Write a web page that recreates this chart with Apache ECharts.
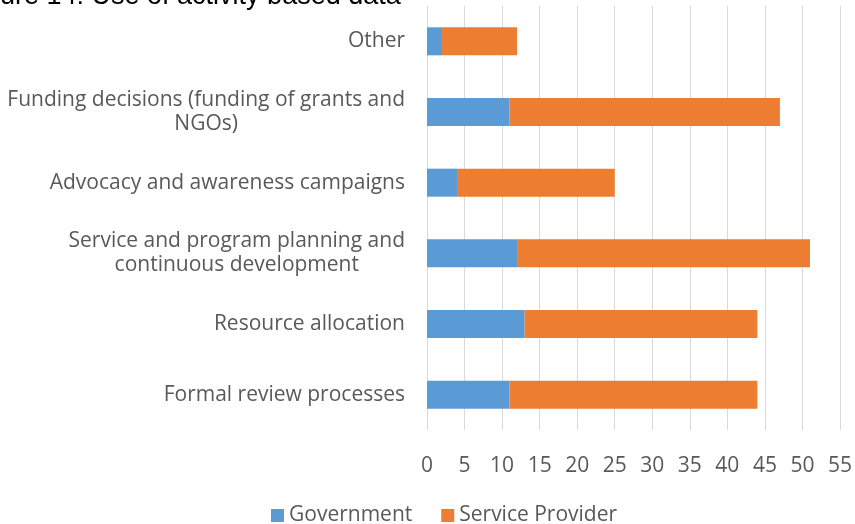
<!DOCTYPE html>
<html>
<head>
<meta charset="utf-8">
<script src="https://cdn.jsdelivr.net/npm/echarts@6/dist/echarts.min.js"></script>
<style>
html,body{margin:0;padding:0;background:#fff;}
#c{width:855px;height:524px;}
</style>
</head>
<body>
<div id="c"></div>
<script>
// Data (category axis bottom -> top)
const categories = [
  'Formal review processes',
  'Resource allocation',
  'Service and program planning and\ncontinuous development',
  'Advocacy and awareness campaigns',
  'Funding decisions (funding of grants and\nNGOs)',
  'Other'
];
const government = [11, 13, 12, 4, 11, 2];
const serviceProvider = [33, 31, 39, 21, 36, 10];
const seriesNames = ['Government', 'Service Provider'];
const titleText = 'ure 14: Use of activity based data';

const chart = echarts.init(document.getElementById('c'), null, {renderer: 'canvas'});
const labelFont = '"Open Sans", sans-serif';
const fs = 21;
chart.setOption({
  animation: false,
  graphic: [{
    type: 'text', left: 0, top: -17,
    style: {text: titleText, font: '27px "Liberation Sans", Arial, sans-serif', fill: '#000'}
  }],
  grid: {left: 427, right: 12, top: 6, bottom: 94, containLabel: false},
  legend: {
    data: seriesNames, left: 266, top: 500, icon: 'rect',
    itemWidth: 13, itemHeight: 13, itemGap: 29,
    textStyle: {color: '#595959', fontSize: fs, fontFamily: labelFont}
  },
  xAxis: {
    type: 'value', min: 0, max: 55, interval: 5,
    axisLine: {show: false}, axisTick: {show: false},
    splitLine: {show: true, lineStyle: {color: '#d9d9d9', width: 1}},
    axisLabel: {color: '#595959', fontSize: fs, fontFamily: labelFont, margin: 26}
  },
  yAxis: {
    type: 'category', data: categories,
    axisLine: {show: false}, axisTick: {show: false},
    axisLabel: {
      color: '#595959', fontSize: fs, fontFamily: labelFont, margin: 22, lineHeight: 24,
      formatter: v => v.split('\n').map(s => '{c|' + s + '}').join('\n'),
      rich: {c: {align: 'center', color: '#595959', fontSize: fs, fontFamily: labelFont, lineHeight: 24}}
    }
  },
  series: [
    {name: seriesNames[0], type: 'bar', stack: 'a', data: government, barWidth: 28,
     itemStyle: {color: '#5B9BD5'}},
    {name: seriesNames[1], type: 'bar', stack: 'a', data: serviceProvider, barWidth: 28,
     itemStyle: {color: '#ED7D31'}}
  ]
});
</script>
</body>
</html>
